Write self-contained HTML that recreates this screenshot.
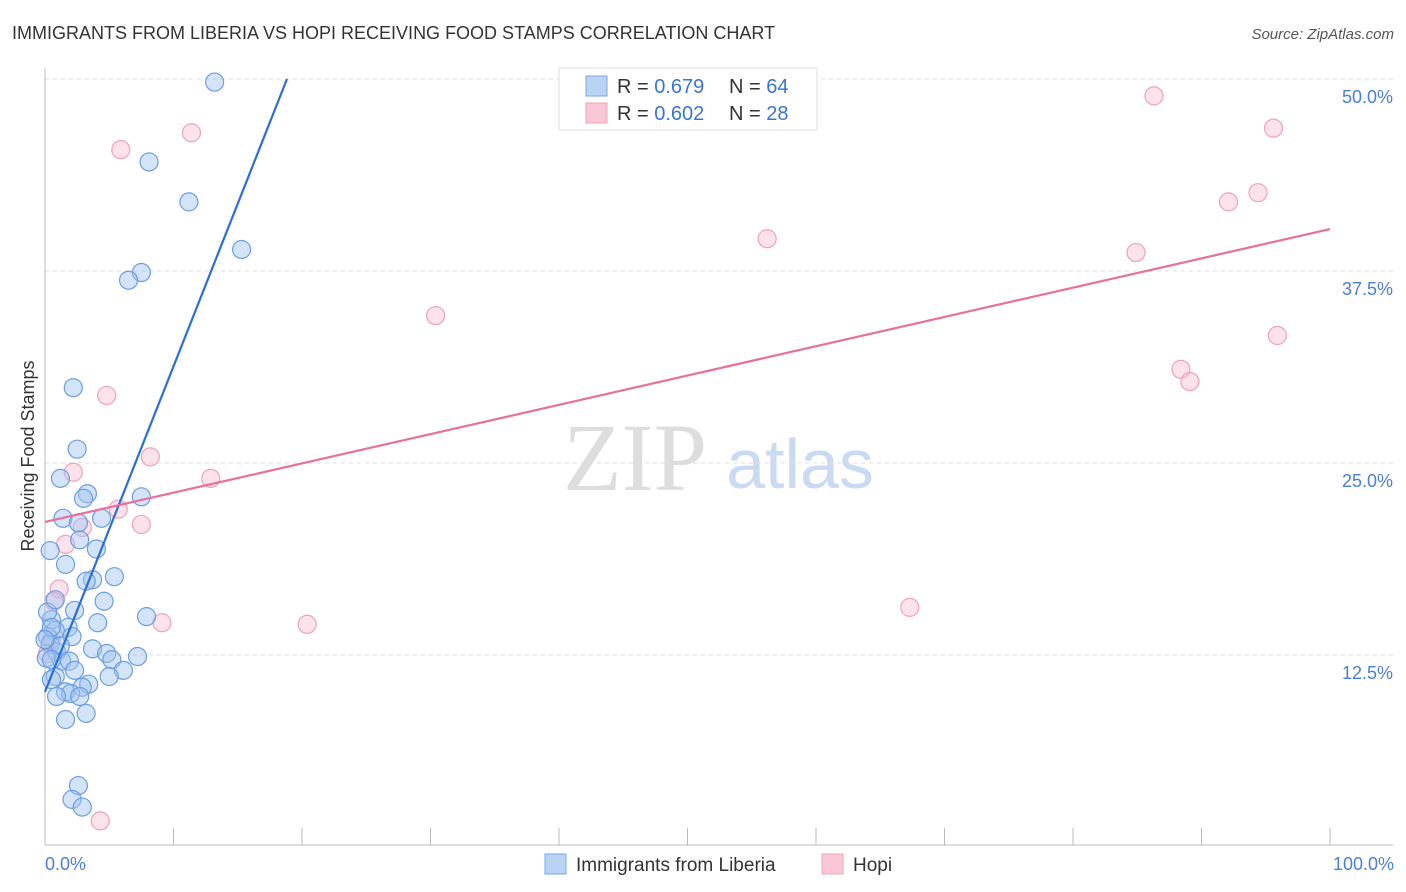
<!DOCTYPE html>
<html><head><meta charset="utf-8"><style>
body{margin:0;background:#fff;font-family:"Liberation Sans",sans-serif;}
svg{display:block}
</style></head><body>
<svg id="chart" width="1406" height="892">
<text x="12" y="39" font-size="18" fill="#333">IMMIGRANTS FROM LIBERIA VS HOPI RECEIVING FOOD STAMPS CORRELATION CHART</text>
<text x="1394" y="39" font-size="15" fill="#555" font-style="italic" text-anchor="end">Source: ZipAtlas.com</text>
<g>
<text x="635" y="490" font-size="96" font-family="Liberation Serif,serif" fill="#ddd" text-anchor="middle">ZIP</text>
<text x="800" y="488" font-size="70" fill="#c9daf2" text-anchor="middle">atlas</text>
</g>
<g id="grid"></g>
<g id="axes"></g>
<g id="marks"></g>
<text transform="translate(34,456) rotate(-90)" font-size="18" fill="#333" text-anchor="middle">Receiving Food Stamps</text>
<text x="45" y="870" font-size="18" fill="#4a7fd4">0.0%</text>
<text x="1394" y="870" font-size="18" fill="#4a7fd4" text-anchor="end">100.0%</text>
<g>
<rect x="559" y="68" width="258" height="62" fill="#fff" stroke="#ddd"/>
<rect x="586" y="76" width="21" height="20" fill="#b9d3f5" stroke="#7aa6e6"/>
<rect x="586" y="103" width="21" height="20" fill="#f9c7d6" stroke="#f0a3bc"/>
<text x="617" y="93" font-size="20" fill="#333">R = <tspan fill="#3a74d0">0.679</tspan><tspan x="729">N = </tspan><tspan fill="#3a74d0">64</tspan></text>
<text x="617" y="120" font-size="20" fill="#333">R = <tspan fill="#3a74d0">0.602</tspan><tspan x="729">N = </tspan><tspan fill="#3a74d0">28</tspan></text>
</g>
<g>
<rect x="545" y="854" width="21" height="20" fill="#b9d3f5" stroke="#7aa6e6"/>
<text x="576" y="871" font-size="19" fill="#333">Immigrants from Liberia</text>
<rect x="822" y="854" width="21" height="20" fill="#f9c7d6" stroke="#f0a3bc"/>
<text x="853" y="871" font-size="19" fill="#333">Hopi</text>
</g>
</svg>
<script>
const yTicks=[12.5,25,37.5,50];
const yTickLabels=["12.5%","25.0%","37.5%","50.0%"];
const xTicks=[0,10,20,30,40,50,60,70,80,90,100];
const blueX=[13.2,8.1,11.2,15.3,7.5,6.5,2.2,2.5,1.2,3.3,3.0,7.5,1.4,4.4,2.6,2.7,4.0,0.4,1.6,5.4,3.7,3.2,4.6,2.3,7.9,0.5,4.1,1.8,0.8,2.1,0.2,0.4,3.7,0.9,4.8,7.2,5.2,1.3,1.9,2.3,6.1,0.1,0.8,5.0,0.5,3.4,2.9,1.6,2.0,0.9,2.7,3.2,1.6,2.6,2.1,2.9,0.2,0.5,1.2,0.5,0.0,0.8];
const blueY=[49.8,44.6,42.0,38.9,37.4,36.9,29.9,25.9,24.0,23.0,22.7,22.8,21.4,21.4,21.1,20.0,19.4,19.3,18.4,17.6,17.4,17.3,16.0,15.4,15.0,14.8,14.6,14.3,14.1,13.7,13.7,13.2,12.9,12.7,12.6,12.4,12.2,12.1,12.1,11.5,11.5,12.3,11.1,11.1,10.9,10.6,10.4,10.1,10.0,9.8,9.8,8.7,8.3,4.0,3.1,2.6,15.3,14.3,13.1,12.2,13.5,16.1];
const pinkX=[86.3,95.6,11.4,5.9,94.4,92.1,56.2,84.9,30.4,95.9,88.4,89.1,4.8,8.2,2.2,12.9,5.7,2.9,7.5,1.6,1.1,0.7,9.1,20.4,67.3,4.3,0.5,0.2];
const pinkY=[48.9,46.8,46.5,45.4,42.6,42.0,39.6,38.7,34.6,33.3,31.1,30.3,29.4,25.4,24.4,24.0,22.0,20.8,21.0,19.7,16.8,16.0,14.6,14.5,15.6,1.7,13.5,12.6];
const blueTrend=[[0,10.1],[18.83,50]];
const pinkTrend=[[0,21.16],[100,40.23]];

const NS="http://www.w3.org/2000/svg";
const X=v=>45+v*12.85;
const Y=v=>847-v*15.36;
function mk(tag,attrs,parent){const e=document.createElementNS(NS,tag);for(const k in attrs)e.setAttribute(k,attrs[k]);parent.appendChild(e);return e;}
const grid=document.getElementById('grid'),axes=document.getElementById('axes'),marks=document.getElementById('marks');
yTicks.forEach((t,i)=>{
 const l=mk('line',{x1:45,x2:1393,y1:Y(t),y2:Y(t),stroke:'#ddd','stroke-dasharray':'4,4'},grid);
 
 
 const tx=mk('text',{x:1393,y:Y(t)+24,'font-size':18,fill:'#4a7fd4','text-anchor':'end'},grid);
 tx.textContent=yTickLabels[i];
 
 
});
const ya=mk('line',{x1:45,x2:45,y1:68,y2:845,stroke:'#bbb'},axes);


const xa=mk('line',{x1:45,x2:1393,y1:845,y2:845,stroke:'#bbb'},axes);


xTicks.forEach(t=>{
 const l=mk('line',{x1:X(t),x2:X(t),y1:828,y2:845,stroke:'#bbb'},axes);
 
 
});
pinkX.forEach((v,i)=>{
 const c=mk('circle',{cx:X(v),cy:Y(pinkY[i]),r:9,fill:'rgba(248,185,205,0.4)',stroke:'#f0a0bb','stroke-width':1.2},marks);
 
 
});
blueX.forEach((v,i)=>{
 const c=mk('circle',{cx:X(v),cy:Y(blueY[i]),r:9,fill:'rgba(160,195,240,0.45)',stroke:'#6b9de0','stroke-width':1.2},marks);
 
 
});
const bl=mk('line',{x1:X(blueTrend[0][0]),y1:Y(blueTrend[0][1]),x2:X(blueTrend[1][0]),y2:Y(blueTrend[1][1]),stroke:'#2a6fd6','stroke-width':2.2},marks);


const pl=mk('line',{x1:X(pinkTrend[0][0]),y1:Y(pinkTrend[0][1]),x2:X(pinkTrend[1][0]),y2:Y(pinkTrend[1][1]),stroke:'#e8709a','stroke-width':2.2},marks);


</script>
</body></html>
